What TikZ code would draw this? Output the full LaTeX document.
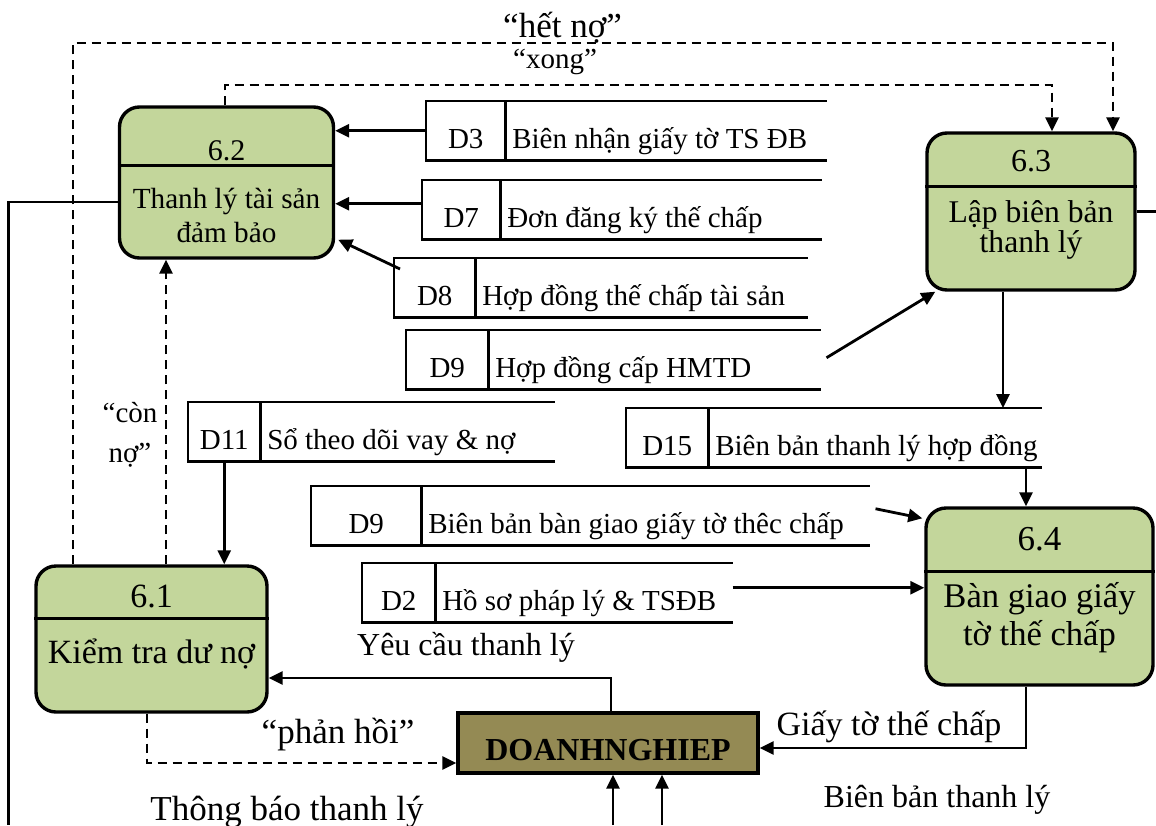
\documentclass[tikz,border=0pt]{standalone}
\usepackage{fontspec}
\setmainfont{Liberation Serif}
\usetikzlibrary{arrows.meta,positioning}

\definecolor{procfill}{HTML}{C3D69B}
\definecolor{entfill}{HTML}{948A54}

\tikzset{every picture/.style={line width=0.75pt}}

\begin{document}
\begin{tikzpicture}[
    x=0.5pt, y=-0.5pt,
    >={Triangle[length=7pt,width=6.5pt]},
    process/.style={draw, line width=1.7pt, fill=procfill, rounded corners=10pt, inner sep=0pt},
    divider/.style={line width=1.4pt},
    procid/.style={anchor=base, inner sep=0pt, font=\fontsize{15}{18}\selectfont},
    proctext/.style={anchor=base, inner sep=0pt, align=center, font=\fontsize{14.6}{17}\selectfont},
    storebox/.style={inner sep=0pt, minimum height=29pt, anchor=north west},
    storeid/.style={inner sep=0pt, minimum height=29pt, text height=18pt, text depth=0pt, anchor=north west, font=\fontsize{14.5}{17}\selectfont},
    storetext/.style={inner sep=0pt, inner xsep=3pt, minimum height=29pt, text height=18pt, text depth=0pt, font=\fontsize{14.5}{17}\selectfont},
    storeline/.style={line width=1.1pt},
    entity/.style={draw, line width=1.7pt, fill=entfill, minimum width=150pt, minimum height=30pt, text height=17pt, text depth=0pt, inner sep=0pt, font=\bfseries\fontsize{16}{18}\selectfont},
    lbl/.style={anchor=base, inner sep=0pt, font=\fontsize{17}{20}\selectfont},
    flow/.style={->, line width=1.4pt},
    dflow/.style={->, line width=1.3pt, dash pattern=on 4.5pt off 3pt},
    link/.style={line width=1.1pt},
]
    \useasboundingbox (0,0) rectangle (1156,825);

    % processes
    \node[process, minimum width=107pt, minimum height=75.5pt] (p62) at (226.5,182.5) {};
    \draw[divider] ([yshift=-30pt]p62.north west) -- ([yshift=-30pt]p62.north east);
    \node[procid] (p62id) at (226.5,160) {6.2};
    \node[proctext] (p62txt) at (226.5,242) {Thanh lý tài sản\\đảm bảo};

    \node[process, minimum width=104pt, minimum height=78.5pt] (p63) at (1031,211.5) {};
    \draw[divider] ([yshift=-27.5pt]p63.north west) -- ([yshift=-27.5pt]p63.north east);
    \node[procid, font=\fontsize{16}{18}\selectfont] (p63id) at (1031,171) {6.3};
    \node[proctext, font=\fontsize{15.8}{15}\selectfont] (p63txt) at (1031,252) {Lập biên bản\\thanh lý};

    \node[process, minimum width=113.5pt, minimum height=88.5pt] (p64) at (1039.5,596.5) {};
    \draw[divider] ([yshift=-32.5pt]p64.north west) -- ([yshift=-32.5pt]p64.north east);
    \node[procid, font=\fontsize{17.5}{20}\selectfont] (p64id) at (1039.5,550) {6.4};
    \node[proctext, font=\fontsize{17.3}{19}\selectfont] (p64txt) at (1039.5,645) {Bàn giao giấy\\tờ thế chấp};

    \node[process, minimum width=115.5pt, minimum height=73pt] (p61) at (151.5,639) {};
    \draw[divider] ([yshift=-27pt]p61.north west) -- ([yshift=-27pt]p61.north east);
    \node[procid, font=\fontsize{17}{20}\selectfont] (p61id) at (151.5,607) {6.1};
    \node[proctext, font=\fontsize{17}{20}\selectfont] (p61txt) at (151.5,663) {Kiểm tra dư nợ};

    \node[entity] (dn) at (608,743) {DOANHNGHIEP};

    % data stores
    \node[storebox, minimum width=199.5pt] (d3) at (426,101) {};
    \node[storeid, minimum width=39pt] (d3id) at (d3.north west) {D3};
    \node[storetext, right=0pt of d3id] (d3txt) {Biên nhận giấy tờ TS ĐB};
    \draw[storeline] (d3.north east) -- (d3.north west) -- (d3.south west) -- (d3.south east)
        (d3id.north east) -- (d3id.south east);

    \node[storebox, minimum width=199pt] (d7) at (422,180) {};
    \node[storeid, minimum width=38.5pt] (d7id) at (d7.north west) {D7};
    \node[storetext, right=0pt of d7id] (d7txt) {Đơn đăng ký thế chấp};
    \draw[storeline] (d7.north east) -- (d7.north west) -- (d7.south west) -- (d7.south east)
        (d7id.north east) -- (d7id.south east);

    \node[storebox, minimum width=206pt] (d8) at (394,258) {};
    \node[storeid, minimum width=40pt] (d8id) at (d8.north west) {D8};
    \node[storetext, right=0pt of d8id] (d8txt) {Hợp đồng thế chấp tài sản};
    \draw[storeline] (d8.north east) -- (d8.north west) -- (d8.south west) -- (d8.south east)
        (d8id.north east) -- (d8id.south east);

    \node[storebox, minimum width=206.5pt] (d9a) at (406,330) {};
    \node[storeid, minimum width=40.5pt] (d9aid) at (d9a.north west) {D9};
    \node[storetext, right=0pt of d9aid] (d9atxt) {Hợp đồng cấp HMTD};
    \draw[storeline] (d9a.north east) -- (d9a.north west) -- (d9a.south west) -- (d9a.south east)
        (d9aid.north east) -- (d9aid.south east);

    \node[storebox, minimum width=182.5pt] (d11) at (188,402) {};
    \node[storeid, minimum width=35.5pt] (d11id) at (d11.north west) {D11};
    \node[storetext, right=0pt of d11id] (d11txt) {Sổ theo dõi vay \& nợ};
    \draw[storeline] (d11.north east) -- (d11.north west) -- (d11.south west) -- (d11.south east)
        (d11id.north east) -- (d11id.south east);

    \node[storebox, minimum width=207pt] (d15) at (626,408) {};
    \node[storeid, minimum width=40.5pt] (d15id) at (d15.north west) {D15};
    \node[storetext, right=0pt of d15id] (d15txt) {Biên bản thanh lý hợp đồng};
    \draw[storeline] (d15.north east) -- (d15.north west) -- (d15.south west) -- (d15.south east)
        (d15id.north east) -- (d15id.south east);

    \node[storebox, minimum width=278.5pt] (d9b) at (311,486) {};
    \node[storeid, minimum width=54.5pt] (d9bid) at (d9b.north west) {D9};
    \node[storetext, right=0pt of d9bid] (d9btxt) {Biên bản bàn giao giấy tờ thêc chấp};
    \draw[storeline] (d9b.north east) -- (d9b.north west) -- (d9b.south west) -- (d9b.south east)
        (d9bid.north east) -- (d9bid.south east);

    \node[storebox, minimum width=184.5pt] (d2) at (362,563) {};
    \node[storeid, minimum width=36pt] (d2id) at (d2.north west) {D2};
    \node[storetext, right=0pt of d2id] (d2txt) {Hồ sơ pháp lý \& TSĐB};
    \draw[storeline] (d2.north east) -- (d2.north west) -- (d2.south west) -- (d2.south east)
        (d2id.north east) -- (d2id.south east);

    % labels
    \node[lbl, font=\fontsize{17.5}{20}\selectfont] (lhetno) at (562.5,37) {“hết nợ”};
    \node[lbl, font=\fontsize{14.5}{17}\selectfont] (lxong) at (555,68) {“xong”};
    \node[lbl, align=center, font=\fontsize{14.5}{20}\selectfont] (lcon) at (130,462) {“còn\\nợ”};
    \node[lbl, font=\fontsize{16}{19}\selectfont] (lyeucau) at (466,655) {Yêu cầu thanh lý};
    \node[lbl, font=\fontsize{17.5}{20}\selectfont] (lphanhoi) at (338,743) {“phản hồi”};
    \node[lbl] (lgiayto) at (889,735) {Giấy tờ thế chấp};
    \node[lbl, font=\fontsize{17.5}{20}\selectfont] (lthongbao) at (287,820) {Thông báo thanh lý};
    \node[lbl, font=\fontsize{16}{19}\selectfont] (lbienban) at (937,807) {Biên bản thanh lý};

    \coordinate (hn) at (562.5,43);
    \coordinate (xg) at (555,85);
    \coordinate (lft) at (8.5,825);
    \coordinate (rgt) at (1156,211.5);
    \coordinate (tb1) at (613,825);
    \coordinate (tb2) at (662,825);

    % flows
    \draw[dflow] ([xshift=-39.25pt]p61.north) |- (hn) -| ([xshift=41pt]p63.north);
    \draw[dflow] ([xshift=-0.75pt]p62.north) |- (xg) -| ([xshift=10.5pt]p63.north);
    \draw[dflow] ([xshift=7.25pt]p61.north) -- ([xshift=7.25pt]p61.north |- p62.south);

    \draw[flow] (d3.west) -- (d3.west -| p62.east);
    \draw[flow] ([yshift=3pt]d7.west) -- ([yshift=3pt]d7.west -| p62.east);
    \draw[flow] ([xshift=3pt,yshift=-5.5pt]d8.north west) -- ([xshift=1.5pt,yshift=10pt]p62.south east);
    \draw[flow] ([xshift=3pt,yshift=1pt]d9a.east) -- ([xshift=5pt]p63.south west);
    \draw[flow] (d11id.south) -- (d11id.south |- p61.north);
    \draw[flow] ([xshift=-14pt]p63.south) -- ([xshift=-14pt]p63.south |- d15.north);
    \draw[flow] ([xshift=-6.75pt]p64.north |- d15.south) -- ([xshift=-6.75pt]p64.north);
    \draw[flow] ([xshift=3pt,yshift=3.5pt]d9b.east) -- ([xshift=-1pt,yshift=-6pt]p64.north west);
    \draw[flow] ([yshift=2.5pt]d2.east) -- ([yshift=2.5pt]d2.east -| p64.west);

    \draw[flow] ([xshift=1.5pt]dn.north) |- ([yshift=-19.5pt]p61.east);
    \draw[dflow] ([xshift=-2.25pt]p61.south) |- ([yshift=-10pt]dn.west);
    \draw[flow] ([xshift=-6.75pt]p64.south) |- ([yshift=-2.5pt]dn.east);
    \draw[flow] (tb1) -- (tb1 |- dn.south);
    \draw[flow] (tb2) -- (tb2 |- dn.south);

    \draw[link] ([yshift=-9.75pt]p62.west) -| (lft);
    \draw[link] (p63.east) -- (rgt);
\end{tikzpicture}
\end{document}
